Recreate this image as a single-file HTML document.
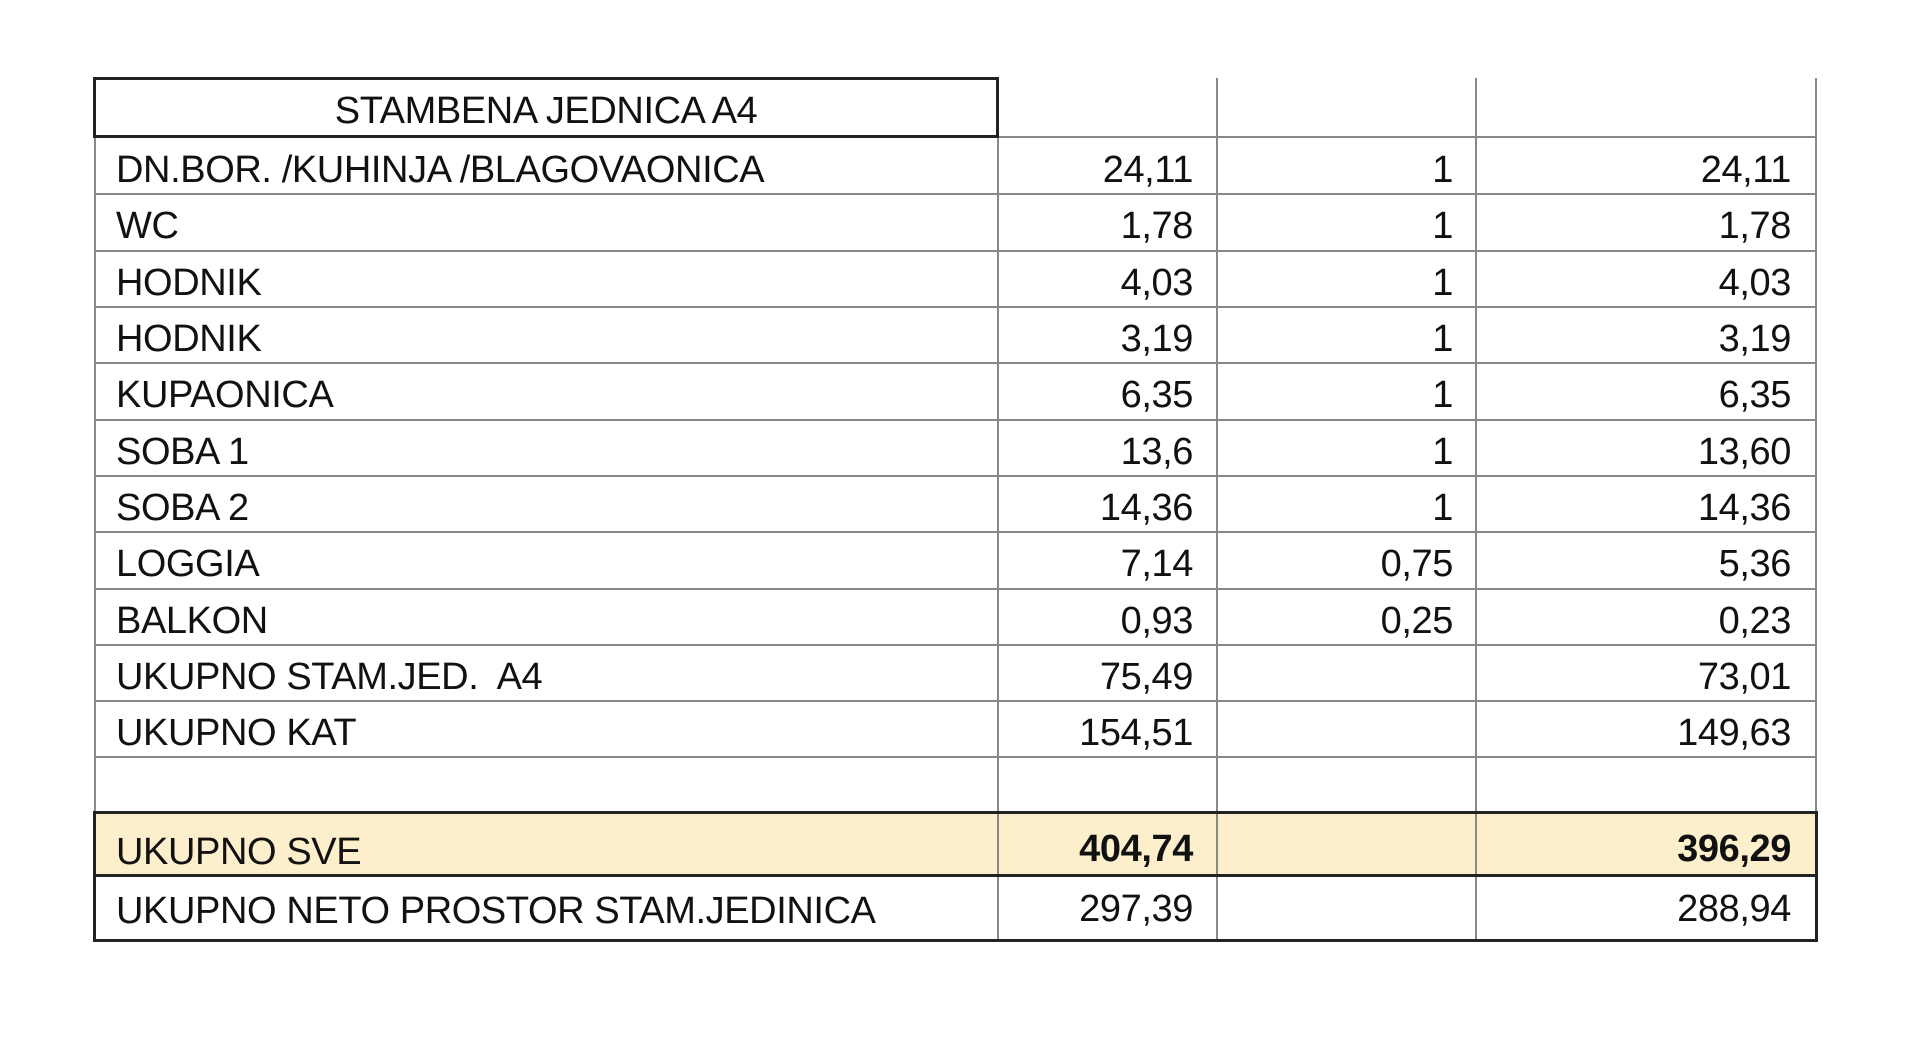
<!DOCTYPE html>
<html><head><meta charset="utf-8"><style>
html,body{margin:0;padding:0;background:#fff;width:1920px;height:1057px;overflow:hidden;position:relative;font-family:"Liberation Sans",sans-serif;color:#111}
.h{position:absolute;height:2px;background:#888}
.v{position:absolute;width:2px;background:#888}
.t{position:absolute;font-size:38px;line-height:56px;height:56px;white-space:nowrap;letter-spacing:-0.4px;margin-top:3px}
.l{left:116px}
.r1{right:calc(1920px - 1193px)}
.r2{right:calc(1920px - 1453px)}
.r3{right:calc(1920px - 1791px)}
</style></head><body>
<div style="position:absolute;left:94px;top:813px;width:1722px;height:63px;background:#fdefcb"></div>

<div class="h" style="left:94px;top:193px;width:1722px"></div>
<div class="h" style="left:94px;top:250px;width:1722px"></div>
<div class="h" style="left:94px;top:306px;width:1722px"></div>
<div class="h" style="left:94px;top:362px;width:1722px"></div>
<div class="h" style="left:94px;top:419px;width:1722px"></div>
<div class="h" style="left:94px;top:475px;width:1722px"></div>
<div class="h" style="left:94px;top:531px;width:1722px"></div>
<div class="h" style="left:94px;top:588px;width:1722px"></div>
<div class="h" style="left:94px;top:644px;width:1722px"></div>
<div class="h" style="left:94px;top:700px;width:1722px"></div>
<div class="h" style="left:94px;top:756px;width:1722px"></div>
<div class="h" style="left:998px;top:136px;width:818px"></div>

<div class="v" style="left:94px;top:137px;height:803px"></div>
<div class="v" style="left:997px;top:78px;height:862px"></div>
<div class="v" style="left:1216px;top:78px;height:862px"></div>
<div class="v" style="left:1475px;top:78px;height:862px"></div>
<div class="v" style="left:1815px;top:78px;height:862px"></div>

<div style="position:absolute;left:93px;top:77px;width:906px;height:61px;border:3px solid #222;box-sizing:border-box"></div>
<div style="position:absolute;left:93px;top:811px;width:1725px;height:66px;border:3px solid #222;box-sizing:border-box"></div>
<div style="position:absolute;left:93px;top:874px;width:1725px;height:68px;border-bottom:3px solid #222;border-left:3px solid #222;border-right:3px solid #222;box-sizing:border-box"></div>

<div class="t" style="left:94px;width:904px;text-align:center;top:80px">STAMBENA JEDNICA A4</div>

<div class="t l" style="top:139px">DN.BOR. /KUHINJA /BLAGOVAONICA</div>
<div class="t r1" style="top:139px">24,11</div><div class="t r2" style="top:139px">1</div><div class="t r3" style="top:139px">24,11</div>
<div class="t l" style="top:195px">WC</div>
<div class="t r1" style="top:195px">1,78</div><div class="t r2" style="top:195px">1</div><div class="t r3" style="top:195px">1,78</div>
<div class="t l" style="top:252px">HODNIK</div>
<div class="t r1" style="top:252px">4,03</div><div class="t r2" style="top:252px">1</div><div class="t r3" style="top:252px">4,03</div>
<div class="t l" style="top:308px">HODNIK</div>
<div class="t r1" style="top:308px">3,19</div><div class="t r2" style="top:308px">1</div><div class="t r3" style="top:308px">3,19</div>
<div class="t l" style="top:364px">KUPAONICA</div>
<div class="t r1" style="top:364px">6,35</div><div class="t r2" style="top:364px">1</div><div class="t r3" style="top:364px">6,35</div>
<div class="t l" style="top:421px">SOBA 1</div>
<div class="t r1" style="top:421px">13,6</div><div class="t r2" style="top:421px">1</div><div class="t r3" style="top:421px">13,60</div>
<div class="t l" style="top:477px">SOBA 2</div>
<div class="t r1" style="top:477px">14,36</div><div class="t r2" style="top:477px">1</div><div class="t r3" style="top:477px">14,36</div>
<div class="t l" style="top:533px">LOGGIA</div>
<div class="t r1" style="top:533px">7,14</div><div class="t r2" style="top:533px">0,75</div><div class="t r3" style="top:533px">5,36</div>
<div class="t l" style="top:590px">BALKON</div>
<div class="t r1" style="top:590px">0,93</div><div class="t r2" style="top:590px">0,25</div><div class="t r3" style="top:590px">0,23</div>
<div class="t l" style="top:646px">UKUPNO STAM.JED.&nbsp; A4</div>
<div class="t r1" style="top:646px">75,49</div><div class="t r3" style="top:646px">73,01</div>
<div class="t l" style="top:702px">UKUPNO KAT</div>
<div class="t r1" style="top:702px">154,51</div><div class="t r3" style="top:702px">149,63</div>

<div class="t l" style="top:818px;line-height:62px">UKUPNO SVE</div>
<div class="t r1" style="top:816px;line-height:60px;font-weight:bold">404,74</div>
<div class="t r3" style="top:816px;line-height:60px;font-weight:bold">396,29</div>

<div class="t l" style="top:878px;line-height:60px">UKUPNO NETO PROSTOR STAM.JEDINICA</div>
<div class="t r1" style="top:876px;line-height:60px">297,39</div>
<div class="t r3" style="top:876px;line-height:60px">288,94</div>
</body></html>
